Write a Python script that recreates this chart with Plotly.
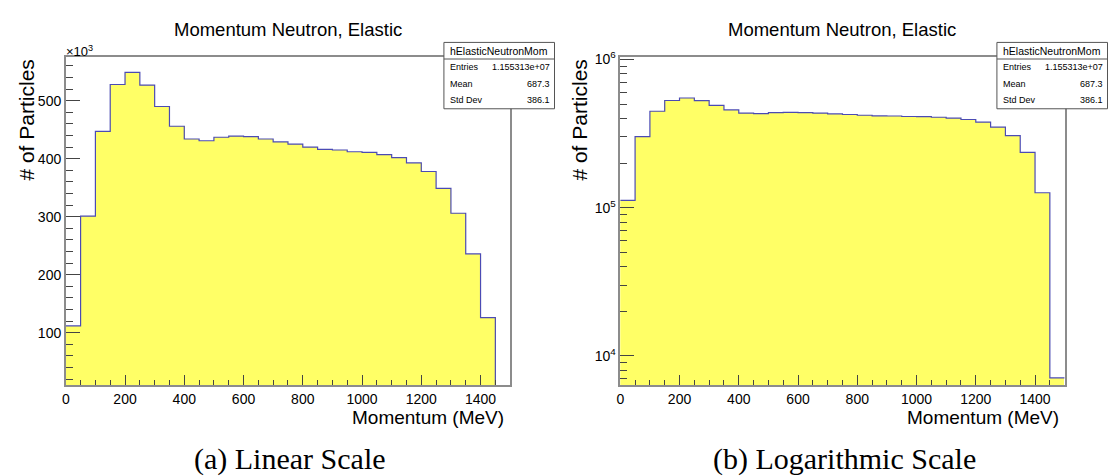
import math
import plotly.graph_objects as go

# ---------------- data ----------------
bin_edges = list(range(0, 1501, 50))          # MeV, 30 bins of 50 MeV
counts = [112000, 301000, 447000, 528000, 549000, 527000, 490000, 456000,
          434000, 431000, 437000, 439000, 438000, 434000, 429000, 425000,
          420000, 416000, 415000, 412000, 411000, 407000, 402000, 393000,
          378000, 349000, 306000, 236000, 126000, 7100]
x_ticks = [0, 200, 400, 600, 800, 1000, 1200, 1400]
lin_ticks = [100, 200, 300, 400, 500]          # x10^3
log_ticks = [1e4, 1e5, 1e6]
log_tick_text = ["10<sup>4</sup>", "10<sup>5</sup>", "10<sup>6</sup>"]
hist_name = "hElasticNeutronMom"
stats_labels = ["Entries", "Mean", "Std Dev"]
stats_values = ["1.155313e+07", "687.3", "386.1"]
title_text = "Momentum Neutron, Elastic"
x_title = "Momentum (MeV)"
y_title = "# of Particles"
captions = ["(a) Linear Scale", "(b) Logarithmic Scale"]

W, H = 1110, 476
def px(x): return x / W
def py(y): return 1 - y / H

FONT = "Liberation Sans, Arial, Helvetica, sans-serif"
SERIF = "Liberation Serif, Times New Roman, serif"
FILL = "#ffff66"
LINE = "#4b4bb4"
AXC = "#8c8c8c"
TICKC = "#444444"

centers = [(a + b) / 2 for a, b in zip(bin_edges[:-1], bin_edges[1:])]
lin_vals = [c / 1000 for c in counts]
step_lin = lin_vals + [lin_vals[-1]]
step_log = counts + [counts[-1]]

fig = go.Figure()
fig.add_trace(go.Bar(x=centers, y=lin_vals, width=50, marker=dict(color=FILL, line=dict(width=0)),
                     xaxis="x", yaxis="y", hoverinfo="skip"))
fig.add_trace(go.Scatter(x=bin_edges, y=step_lin, mode="lines", line=dict(color=LINE, width=1.2, shape="hv"),
                         xaxis="x", yaxis="y", hoverinfo="skip"))
fig.add_trace(go.Bar(x=centers, y=counts, width=50, marker=dict(color=FILL, line=dict(width=0)),
                     xaxis="x2", yaxis="y2", hoverinfo="skip"))
fig.add_trace(go.Scatter(x=bin_edges, y=step_log, mode="lines", line=dict(color=LINE, width=1.2, shape="hv"),
                         xaxis="x2", yaxis="y2", hoverinfo="skip"))

log_minor = [m * 10 ** e for e in range(3, 6) for m in range(2, 10)]

xcommon = dict(range=[0, 1500], tickvals=x_ticks, ticks="inside", ticklen=10, tickcolor=TICKC,
               minor=dict(ticks="inside", ticklen=5, dtick=50, tick0=0, tickcolor=TICKC),
               showline=True, linecolor=AXC, linewidth=1.5, mirror=True,
               showgrid=False, zeroline=False, tickfont=dict(family=FONT, size=14, color="black"))
ydom = [py(383.5), py(50)]

fig.update_layout(
    width=W, height=H, margin=dict(l=0, r=0, t=0, b=0),
    paper_bgcolor="white", plot_bgcolor="white", showlegend=False, bargap=0,
    xaxis=dict(domain=[px(62), px(508)], anchor="y", **xcommon),
    yaxis=dict(domain=ydom, anchor="x", range=[9.8, 575.1], tickvals=lin_ticks,
               ticks="inside", ticklen=14, tickcolor=TICKC,
               minor=dict(ticks="inside", ticklen=7, dtick=20, tick0=0, tickcolor=TICKC),
               showline=True, linecolor=AXC, linewidth=1.5, mirror=True,
               showgrid=False, zeroline=False, tickfont=dict(family=FONT, size=14, color="black")),
    xaxis2=dict(domain=[px(618.5), px(1064.5)], anchor="y2", **xcommon),
    yaxis2=dict(domain=ydom, anchor="x2", type="log", range=[math.log10(6360), 6.015],
                tickvals=log_ticks, ticktext=log_tick_text,
                ticks="inside", ticklen=14, tickcolor=TICKC,
                minor=dict(ticks="inside", ticklen=7, tickvals=log_minor, tickcolor=TICKC),
                showline=True, linecolor=AXC, linewidth=1.5, mirror=True,
                showgrid=False, zeroline=False, tickfont=dict(family=FONT, size=14, color="black")),
)

shapes = []
annotations = []
panels = [(62, 508, 0), (618.5, 1064.5, 555)]
for i, (x0, x1, off) in enumerate(panels):
    cx = (x0 + x1) / 2
    annotations.append(dict(x=px(cx), y=py(21.5), xref="paper", yref="paper", text=title_text,
                            showarrow=False, xanchor="center", yanchor="middle",
                            font=dict(family=FONT, size=18.5, color="black")))
    annotations.append(dict(x=px(off + 23), y=py(50), xref="paper", yref="paper", text=y_title,
                            showarrow=False, textangle=-90, xanchor="center", yanchor="top",
                            font=dict(family=FONT, size=21, color="black")))
    annotations.append(dict(x=px(x1 - 4), y=py(417), xref="paper", yref="paper", text=x_title,
                            showarrow=False, xanchor="right", yanchor="middle",
                            font=dict(family=FONT, size=19, color="black")))
    annotations.append(dict(x=px(off + 287 if i == 0 else off + 289), y=py(459), xref="paper", yref="paper",
                            text=captions[i], showarrow=False, xanchor="center", yanchor="middle",
                            font=dict(family=SERIF, size=30, color="black")))
    # stats box
    bx0, bx1, by0, by1 = off + 441.5, off + 552.5, 35, 102.5
    rh = (by1 - by0) / 4
    shapes.append(dict(type="rect", xref="paper", yref="paper", x0=px(bx0), x1=px(bx1), y0=py(by1), y1=py(by0),
                       line=dict(color="#555555", width=1), fillcolor="white", layer="above"))
    shapes.append(dict(type="line", xref="paper", yref="paper", x0=px(bx0), x1=px(bx1),
                       y0=py(by0 + rh), y1=py(by0 + rh), line=dict(color="#555555", width=1), layer="above"))
    annotations.append(dict(x=px((bx0 + bx1) / 2), y=py(by0 + rh / 2 + 0.5), xref="paper", yref="paper",
                            text=hist_name, showarrow=False, xanchor="center", yanchor="middle",
                            font=dict(family=FONT, size=10.5, color="black")))
    for k, (lab, val) in enumerate(zip(stats_labels, stats_values)):
        yy = by0 + rh * (k + 1.5)
        annotations.append(dict(x=px(bx0 + 4), y=py(yy), xref="paper", yref="paper", text=lab,
                                showarrow=False, xanchor="left", yanchor="middle",
                                font=dict(family=FONT, size=9, color="black")))
        annotations.append(dict(x=px(bx1 - 3), y=py(yy), xref="paper", yref="paper", text=val,
                                showarrow=False, xanchor="right", yanchor="middle",
                                font=dict(family=FONT, size=9, color="black")))

annotations.append(dict(x=px(60), y=py(44), xref="paper", yref="paper", text="\u00d710<sup>3</sup>",
                        showarrow=False, xanchor="left", yanchor="middle",
                        font=dict(family=FONT, size=13, color="black")))

fig.update_layout(shapes=shapes, annotations=annotations)
fig.write_html("out.html")
